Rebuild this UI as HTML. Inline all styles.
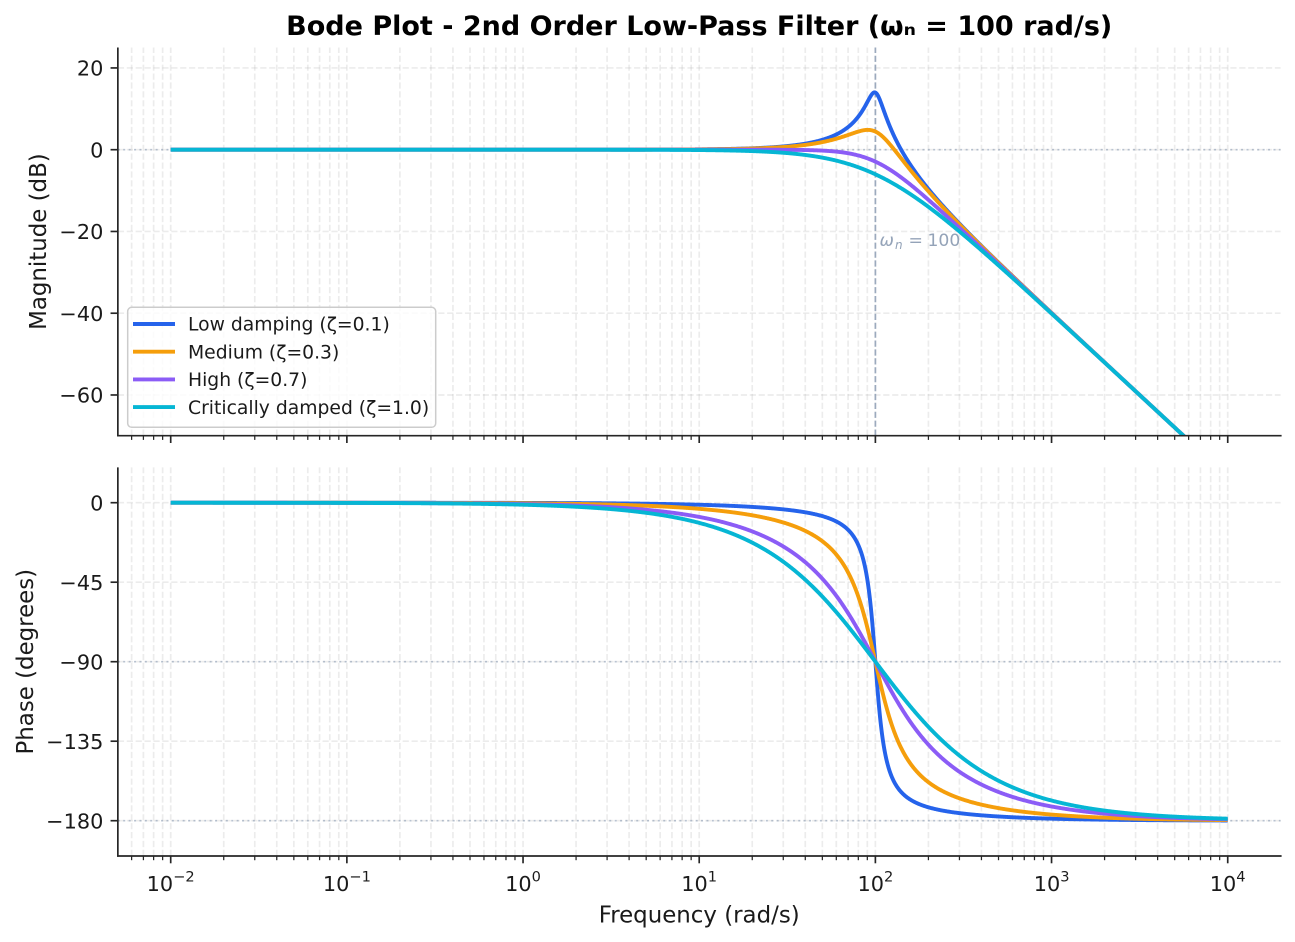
<!DOCTYPE html>
<html><head><meta charset="utf-8">
<style>
html,body{margin:0;padding:0;background:#fff;}
svg{display:block;font-family:"DejaVu Sans","Liberation Sans",sans-serif;}
</style></head>
<body>
<svg id="s" width="1295" height="942" viewBox="0 0 1295 942" xmlns="http://www.w3.org/2000/svg">
<defs>
<clipPath id="c1"><rect x="117.85" y="47.5" width="1162.75" height="388.2"/></clipPath>
<clipPath id="c2"><rect x="117.85" y="467.4" width="1162.75" height="388.6"/></clipPath>
</defs>
<rect x="0" y="0" width="1295" height="942" fill="#fff"/>
<g id="grid"></g>
<g id="refs"></g>
<g id="curves"></g>
<g id="axes"></g>

<!-- Legend -->
<g id="legend">
<rect x="127.7" y="307.3" width="308" height="120" rx="4" ry="4" fill="#fff" fill-opacity="0.8" stroke="#cccccc" stroke-width="1.5"/>
<line x1="133" y1="324" x2="175" y2="324" stroke="#2563eb" stroke-width="3.9"/>
<line x1="133" y1="351.7" x2="175" y2="351.7" stroke="#f59e0b" stroke-width="3.9"/>
<line x1="133" y1="379.4" x2="175" y2="379.4" stroke="#8b5cf6" stroke-width="3.9"/>
<line x1="133" y1="407.1" x2="175" y2="407.1" stroke="#06b6d4" stroke-width="3.9"/>
<g font-size="18.75" fill="#1a1a1a">
<text x="188" y="330.7">Low damping (ζ=0.1)</text>
<text x="188" y="358.4">Medium (ζ=0.3)</text>
<text x="188" y="386.1">High (ζ=0.7)</text>
<text x="188" y="413.8">Critically damped (ζ=1.0)</text>
</g>
</g>

<!-- Title -->
<text x="699.2" y="35" text-anchor="middle" font-weight="bold" font-size="27" fill="#000">Bode Plot - 2nd Order Low-Pass Filter (ωₙ = 100 rad/s)</text>

<!-- Y tick labels -->
<g font-size="20.83" fill="#1a1a1a" text-anchor="end">
<text x="103.4" y="75.4">20</text>
<text x="103.4" y="157.3">0</text>
<text x="103.4" y="239.1">−20</text>
<text x="103.4" y="320.9">−40</text>
<text x="103.4" y="402.6">−60</text>
<text x="103.4" y="510.3">0</text>
<text x="103.4" y="589.8">−45</text>
<text x="103.4" y="669.3">−90</text>
<text x="103.4" y="748.8">−135</text>
<text x="103.4" y="828.3">−180</text>
</g>

<!-- X tick labels -->
<g font-size="20.83" fill="#1a1a1a" text-anchor="middle">
<text x="170.7" y="891">10<tspan dy="-9.7" font-size="14.6">−2</tspan></text>
<text x="346.9" y="891">10<tspan dy="-9.7" font-size="14.6">−1</tspan></text>
<text x="523.0" y="891">10<tspan dy="-9.7" font-size="14.6">0</tspan></text>
<text x="699.2" y="891">10<tspan dy="-9.7" font-size="14.6">1</tspan></text>
<text x="875.4" y="891">10<tspan dy="-9.7" font-size="14.6">2</tspan></text>
<text x="1051.6" y="891">10<tspan dy="-9.7" font-size="14.6">3</tspan></text>
<text x="1227.7" y="891">10<tspan dy="-9.7" font-size="14.6">4</tspan></text>
</g>

<!-- Axis labels -->
<text x="699.2" y="922.5" text-anchor="middle" font-size="22.9" fill="#1a1a1a">Frequency (rad/s)</text>
<text transform="translate(46,241.6) rotate(-90)" text-anchor="middle" font-size="22.9" fill="#1a1a1a">Magnitude (dB)</text>
<text transform="translate(33,661.7) rotate(-90)" text-anchor="middle" font-size="22.9" fill="#1a1a1a">Phase (degrees)</text>

<!-- Annotation -->
<text y="246" font-size="17.2" fill="#94a3b8"><tspan x="879.5" font-style="italic">ω</tspan><tspan x="895" dy="3" font-style="italic" font-size="12">n</tspan><tspan x="908.5" dy="-3">=</tspan><tspan x="927.5">100</tspan></text>

<script>
(function(){
var NS="http://www.w3.org/2000/svg";
function el(tag,a,p){var e=document.createElementNS(NS,tag);for(var k in a)e.setAttribute(k,a[k]);p.appendChild(e);return e;}
var X0=117.85,X1=1280.6;
function lx(w){return 170.7+(Math.log10(w)+2)*176.17;}
var P=[{top:47.5,bot:435.7,fy:function(v){return 149.7-v*4.088;},yt:[20,0,-20,-40,-60]},
       {top:467.4,bot:856,fy:function(v){return 502.7-v*1.7667;},yt:[0,-45,-90,-135,-180]}];
var grid=document.getElementById('grid'),refs=document.getElementById('refs'),
    curves=document.getElementById('curves'),axes=document.getElementById('axes');
var xs=[];
for(var k=-3;k<=4;k++)for(var m=1;m<=9;m++){var w=m*Math.pow(10,k);var l=Math.log10(w);if(l>=-2.3&&l<=4.3)xs.push({x:lx(w),major:m==1});}
var gst={stroke:'#b0b0b0','stroke-opacity':0.24,'stroke-width':1.67,'stroke-dasharray':'6.2 2.7'};
function withSt(a,st){for(var k in st)a[k]=st[k];return a;}
P.forEach(function(p){
  xs.forEach(function(t){el('line',withSt({x1:t.x,y1:p.bot,x2:t.x,y2:p.top},gst),grid);});
  p.yt.forEach(function(v){var y=p.fy(v);el('line',withSt({x1:X0,y1:y,x2:X1,y2:y},gst),grid);});
  el('line',{x1:X0,y1:p.top,x2:X0,y2:p.bot+0.8,stroke:'#262626','stroke-width':1.7},axes);
  el('line',{x1:X0-0.8,y1:p.bot,x2:X1+1,y2:p.bot,stroke:'#262626','stroke-width':1.7},axes);
  xs.forEach(function(t){el('line',{x1:t.x,y1:p.bot,x2:t.x,y2:p.bot+(t.major?7.3:4.2),stroke:'#262626','stroke-width':t.major?1.67:1.25},axes);});
  p.yt.forEach(function(v){var y=p.fy(v);el('line',{x1:X0-7.3,y1:y,x2:X0,y2:y,stroke:'#262626','stroke-width':1.67},axes);});
});
var dot={stroke:'#94a3b8','stroke-opacity':0.65,'stroke-width':1.6,'stroke-dasharray':'2 3.4'};
function line(x1,y1,x2,y2,st){el('line',withSt({x1:x1,y1:y1,x2:x2,y2:y2},st),refs);}
line(X0,P[0].fy(0),X1,P[0].fy(0),dot);
line(X0,P[1].fy(-90),X1,P[1].fy(-90),dot);
line(X0,P[1].fy(-180),X1,P[1].fy(-180),dot);
line(lx(100),P[0].bot,lx(100),P[0].top,{stroke:'#94a3b8','stroke-opacity':0.9,'stroke-width':1.7,'stroke-dasharray':'6.2 2.7'});
var Z=[[0.1,'#2563eb'],[0.3,'#f59e0b'],[0.7,'#8b5cf6'],[1.0,'#06b6d4']];
var g1=el('g',{'clip-path':'url(#c1)'},curves),g2=el('g',{'clip-path':'url(#c2)'},curves);
var N=2400;
Z.forEach(function(z){
  var d1='',d2='';
  for(var i=0;i<=N;i++){
    var lw=-2+6*i/N,w=Math.pow(10,lw),r=w/100;
    var re=1-r*r,im=2*z[0]*r;
    var mag=-10*Math.log10(re*re+im*im);
    var ph=-Math.atan2(im,re)*180/Math.PI;
    var x=lx(w);
    d1+=(i?'L':'M')+x.toFixed(2)+','+P[0].fy(mag).toFixed(2);
    d2+=(i?'L':'M')+x.toFixed(2)+','+P[1].fy(ph).toFixed(2);
  }
  el('path',{d:d1,fill:'none',stroke:z[1],'stroke-width':3.9,'stroke-linejoin':'round'},g1);
  el('path',{d:d2,fill:'none',stroke:z[1],'stroke-width':3.9,'stroke-linejoin':'round'},g2);
});
})();
</script>
</svg>
</body></html>
